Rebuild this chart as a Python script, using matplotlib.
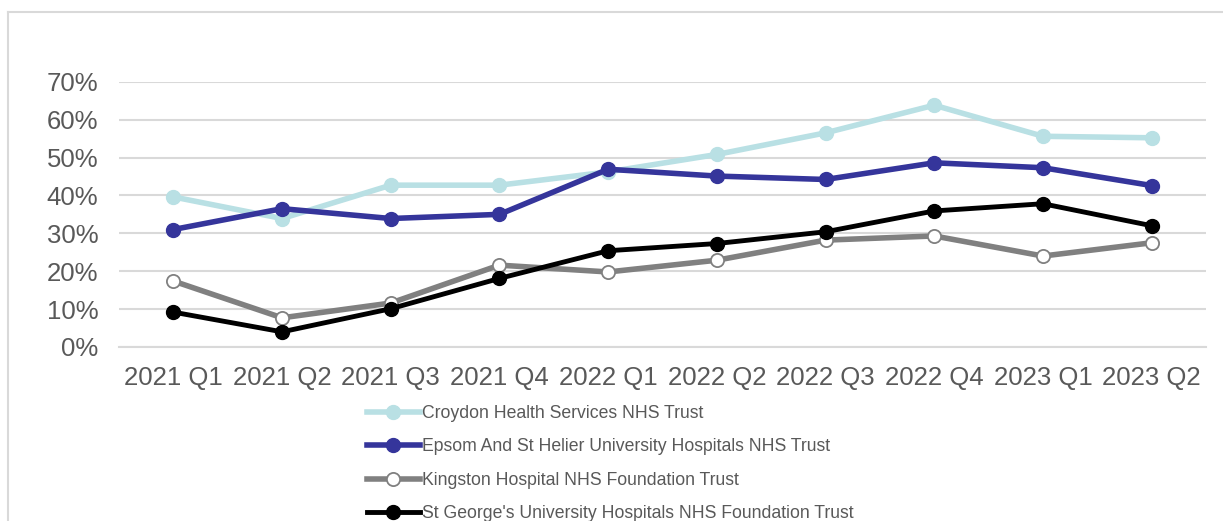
import matplotlib
matplotlib.use("Agg")
import matplotlib.pyplot as plt
from matplotlib.lines import Line2D
from matplotlib.ticker import PercentFormatter

plt.rcParams['font.family'] = ['Liberation Sans', 'DejaVu Sans']

trimestres = ['2021 Q1', '2021 Q2', '2021 Q3', '2021 Q4', '2022 Q1',
              '2022 Q2', '2022 Q3', '2022 Q4', '2023 Q1', '2023 Q2']

croydon = [39.6, 33.9, 42.7, 42.7, 46.2, 50.8, 56.5, 63.8, 55.6, 55.2]
epsom = [31.0, 36.5, 33.9, 35.0, 46.9, 45.1, 44.2, 48.6, 47.3, 42.6]
kingston = [17.4, 7.7, 11.6, 21.6, 19.8, 22.9, 28.2, 29.3, 24.0, 27.5]
st_georges = [9.2, 4.0, 10.1, 18.1, 25.4, 27.3, 30.4, 35.9, 37.8, 32.0]

nomes = ['Croydon Health Services NHS Trust',
         'Epsom And St Helier University Hospitals NHS Trust',
         'Kingston Hospital NHS Foundation Trust',
         "St George's University Hospitals NHS Foundation Trust"]

cor_texto = '#595959'
cor_grade = '#d9d9d9'

fig = plt.figure(figsize=(12.23, 5.21), dpi=100)
ax = fig.add_axes([119 / 1223, 1 - 347 / 521, (1206 - 119) / 1223, (347 - 81.7) / 521])

x = list(range(len(trimestres)))
ax.plot(x, croydon, color='#b9e0e4', lw=4, marker='o', ms=10,
        label=nomes[0], zorder=3)
ax.plot(x, epsom, color='#35359b', lw=4, marker='o', ms=10,
        label=nomes[1], zorder=4)
ax.plot(x, kingston, color='#808080', lw=4, marker='o', ms=9.5,
        mfc='white', mec='#808080', mew=1.3, label=nomes[2], zorder=5)
ax.plot(x, st_georges, color='black', lw=3.5, marker='o', ms=10,
        label=nomes[3], zorder=6)

ax.set_xlim(-0.5, len(trimestres) - 0.5)
ax.set_ylim(0, 70)
ax.set_yticks(range(0, 71, 10))
ax.yaxis.set_major_formatter(PercentFormatter(decimals=0))
ax.set_xticks(x)
ax.set_xticklabels(trimestres)

ax.grid(axis='y', color=cor_grade, lw=1.5)
ax.set_axisbelow(True)
for lado in ['top', 'right', 'left']:
    ax.spines[lado].set_visible(False)
ax.spines['bottom'].set_color(cor_grade)
ax.spines['bottom'].set_linewidth(1.5)
ax.tick_params(axis='both', length=0, labelsize=18.5, labelcolor=cor_texto)
ax.tick_params(axis='y', pad=15)
ax.tick_params(axis='x', pad=14)

# moldura cinza do grafico (cortada a direita e embaixo)
fig.add_artist(Line2D([8 / 1223, 8 / 1223], [1 - 12 / 521, -0.1],
                      transform=fig.transFigure, color=cor_grade, lw=1.5))
fig.add_artist(Line2D([8 / 1223, 1.1], [1 - 12 / 521, 1 - 12 / 521],
                      transform=fig.transFigure, color=cor_grade, lw=1.5))

fig.legend(loc='upper left', bbox_to_anchor=(367 / 1223, 1 - 405 / 521),
           frameon=False, fontsize=12.7, labelcolor=cor_texto,
           handlelength=3.0, handletextpad=0.1, labelspacing=0.93,
           borderpad=0, borderaxespad=0)

fig.savefig('out.png', dpi=100)
